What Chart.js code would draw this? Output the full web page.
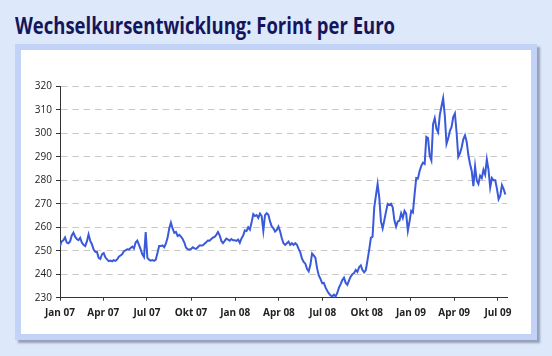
<!DOCTYPE html>
<html><head><meta charset="utf-8">
<script src="https://cdn.jsdelivr.net/npm/chart.js@4.4.0/dist/chart.umd.min.js"></script>
<style>
html,body{margin:0;padding:0;width:552px;height:356px;overflow:hidden;background:#dde8fb;}
#title{position:absolute;left:15px;top:9px;font:bold 23px "Open Sans",sans-serif;color:#15155c;white-space:nowrap;transform-origin:0 0;}
#frame{position:absolute;left:15px;top:44px;width:510px;height:284px;border:6px solid #c3d3f7;background:#fff;box-shadow:3px 3px 2px rgba(90,100,130,.55);}
#c{position:absolute;left:0;top:0;}
</style></head>
<body>
<div id="title">Wechselkursentwicklung: Forint per Euro</div>
<div id="frame"></div>
<canvas id="c" width="552" height="356"></canvas>
<script>
// Forint per Euro, sampled every 3.5 days from 1 Jan 2007
const startLabel = 'Jan 07';
const stepDays = 3.5;
const rate = [
252,254,254.5,255.7,253.5,253.2,254,256.5,257.7,256,
255,254.5,255.5,253.5,252.5,252,254,257,254.2,252.8,
250.5,249.6,249.5,247,246.5,248.5,249,247.2,246.3,245.6,
245.8,245.5,246,245.7,246.3,247.5,248,248.5,249.8,250.2,
250.6,250.5,251.2,251.8,251,253.5,254.3,252.5,250.6,248.5,
247.3,258,247,246.2,245.8,246,245.7,246.2,249,252,
252,252.3,251.5,253,255.5,259.5,262,259.5,257.6,258,
256.3,256.8,256,255,253.5,251.3,250.7,250.5,250.8,251.5,
251,250.8,251.5,252.2,252.2,252.3,253,253.6,254.4,254.3,
255,255.6,255.9,256.8,258,256.6,254.2,253.3,254.2,255.2,
254.8,254.3,255,254.5,254.5,254.2,254.8,253.4,255.3,256.5,
258.7,258.4,260,259,262,265.6,264.8,265.2,264,265.8,
264.8,258.5,265.2,266,265.3,262.5,260.4,259.6,258.2,258.9,
260.3,258.2,255.3,253.2,252.5,253.2,253.9,252.5,253.2,252.5,
253.2,252.5,250.8,249.3,246.6,245.3,244.5,242.3,241.2,244,
248.8,248,247,242.5,239.5,238,236.2,236.3,234.4,233,
231.8,231,230.6,231.3,230.5,232,234.3,235.8,237.5,238.5,
236.3,235.5,237.4,239,240,240.5,241.8,241,243,243.8,
241.8,240.8,241.8,246,250.5,255.5,256,268.5,273.5,278.5,
272.5,262.5,259.5,263,266.7,270,269.5,270,268.5,263,
260.3,262.5,262.8,266,264,267,265.8,258.5,262.5,267,
266.3,274,281,280.8,284,286.2,287.5,287,298.5,298,
290.5,288.5,304,306.5,302,300.5,307.8,311.5,315,307.5,
295.5,297.8,301,302.8,307,308.5,300.5,290,291.5,294,
297.5,299.2,296.5,290.8,287,284,277.5,286,280,278.5,
282,281,284.5,282.5,289,284.5,277,281,280,280,
276.5,272,273.5,278,276.3,274
];
// quarter starts, days since 1 Jan 2007
const tickDays = [0,90,181,273,365,456,547,639,731,821,912];
const tickLabels = ['Jan 07','Apr 07','Jul 07','Okt 07','Jan 08','Apr 08','Jul 08','Okt 08','Jan 09','Apr 09','Jul 09'];
const yTicks = [230,240,250,260,270,280,290,300,310,320];

// fit title width
const t = document.getElementById('title');
const w = t.getBoundingClientRect().width;
t.style.transform = 'scaleX(' + (380 / w) + ')';

const points = rate.map((v, i) => ({x: i * stepDays, y: v}));

new Chart(document.getElementById('c'), {
  type: 'line',
  data: {datasets: [{data: points, borderColor: '#3a5ad9', borderWidth: 2, pointRadius: 0, tension: 0, fill: false}]},
  options: {
    responsive: false, animation: false, devicePixelRatio: 1,
    layout: {padding: {left: 0, right: 45, top: 86.5, bottom: 18.3}},
    plugins: {legend: {display: false}, tooltip: {enabled: false}},
    scales: {
      x: {
        type: 'linear', min: 0, max: 931,
        afterBuildTicks: s => { s.ticks = tickDays.map(v => ({value: v})); },
        afterFit: s => { s.height = 40; },
        grid: {drawOnChartArea: false, tickLength: 3, tickColor: '#333'},
        border: {color: '#333', width: 1},
        ticks: {
          callback: v => tickLabels[tickDays.indexOf(v)],
          font: {family: 'Open Sans', size: 10, weight: 'bold'}, color: '#222',
          padding: 6, maxRotation: 0, autoSkip: false
        }
      },
      y: {
        min: 230, max: 320,
        afterBuildTicks: s => { s.ticks = yTicks.map(v => ({value: v})); },
        afterFit: s => { s.width = 60; },
        grid: {color: '#c8c8c8', tickColor: '#333', tickLength: 4, lineWidth: 1},
        border: {color: '#333', width: 1, dash: [6.5, 4.8]},
        ticks: {font: {family: 'Open Sans', size: 10}, color: '#222', padding: 4}
      }
    }
  }
});
</script>
</body></html>
